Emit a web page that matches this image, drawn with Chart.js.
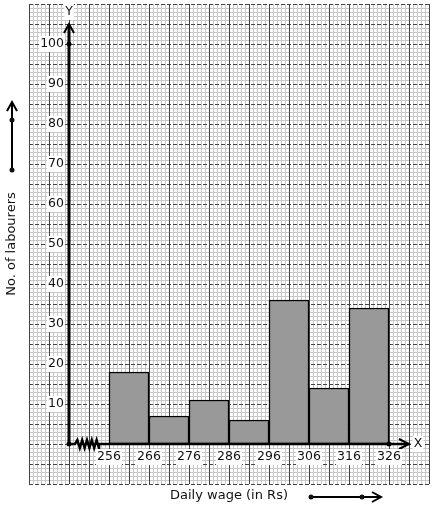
<!DOCTYPE html>
<html>
<head>
<meta charset="utf-8">
<script src="https://cdn.jsdelivr.net/npm/chart.js@4"></script>
<style>
  body { margin: 0; background: #fff; }
  #wrap { width: 434px; height: 510px; position: relative; }
</style>
</head>
<body>
<div id="wrap"><canvas id="histo"></canvas></div>
<script>
// class intervals (lower limits) and number of labourers
const wageClasses = [256, 266, 276, 286, 296, 306, 316];
const labourers = [18, 7, 11, 6, 36, 14, 34];
const xTickLabels = [256, 266, 276, 286, 296, 306, 316, 326];
const yTickLabels = [10, 20, 30, 40, 50, 60, 70, 80, 90, 100];
const classWidth = 10;

const FONT = '"DejaVu Sans", sans-serif';

// graph paper drawn from the scales
const graphPaper = {
  id: 'graphPaper',
  beforeDatasetsDraw(chart) {
    const ctx = chart.ctx, xs = chart.scales.x, ys = chart.scales.y;
    const a = chart.chartArea;
    ctx.save();
    ctx.lineWidth = 1;
    // fine lines
    ctx.strokeStyle = '#c8c8c8';
    for (let v = xs.min; v <= xs.max; v++) {
      if ((v - xs.min) % 5 === 0) continue;
      const px = Math.round(xs.getPixelForValue(v)) + 0.5;
      ctx.beginPath(); ctx.moveTo(px, a.top); ctx.lineTo(px, a.bottom); ctx.stroke();
    }
    for (let v = ys.min; v <= ys.max; v++) {
      if ((v - ys.min) % 5 === 0) continue;
      const py = Math.round(ys.getPixelForValue(v)) + 0.5;
      ctx.beginPath(); ctx.moveTo(a.left, py); ctx.lineTo(a.right, py); ctx.stroke();
    }
    // major lines
    ctx.strokeStyle = '#444';
    for (let v = xs.min; v <= xs.max; v += 5) {
      const px = Math.round(xs.getPixelForValue(v)) + 0.5;
      ctx.beginPath(); ctx.moveTo(px, a.top); ctx.lineTo(px, a.bottom); ctx.stroke();
    }
    ctx.setLineDash([4, 2]);
    for (let v = ys.min; v <= ys.max; v += 5) {
      const py = Math.round(ys.getPixelForValue(v)) + 0.5;
      ctx.beginPath(); ctx.moveTo(a.left, py); ctx.lineTo(a.right, py); ctx.stroke();
    }
    ctx.restore();
  }
};

function labelBox(ctx, text, x, y, align) {
  const w = ctx.measureText(text).width;
  let left = align === 'right' ? x - w : align === 'center' ? x - w / 2 : x;
  ctx.fillStyle = '#fff';
  ctx.fillRect(left - 1, y - 8, w + 2, 16);
  ctx.fillStyle = '#111';
  ctx.textAlign = align;
  ctx.textBaseline = 'middle';
  ctx.fillText(text, x, y);
}

function dot(ctx, x, y) {
  ctx.beginPath(); ctx.arc(x, y, 2.5, 0, Math.PI * 2); ctx.fill();
}

// axes, arrows, kink and labels
const axesDeco = {
  id: 'axesDeco',
  afterDatasetsDraw(chart) {
    const ctx = chart.ctx, xs = chart.scales.x, ys = chart.scales.y;
    const ox = xs.getPixelForValue(246), oy = ys.getPixelForValue(0);
    ctx.save();
    ctx.strokeStyle = '#000';
    ctx.fillStyle = '#000';
    // y axis
    const yTop = ys.getPixelForValue(105);
    ctx.lineWidth = 3;
    ctx.beginPath(); ctx.moveTo(ox, oy); ctx.lineTo(ox, yTop); ctx.stroke();
    ctx.lineWidth = 2;
    ctx.beginPath(); ctx.moveTo(ox - 5, yTop + 9); ctx.lineTo(ox, yTop); ctx.lineTo(ox + 5, yTop + 9); ctx.stroke();
    // x axis with kink
    const k1 = xs.getPixelForValue(247.5), k2 = xs.getPixelForValue(253.5);
    const xEnd = xs.getPixelForValue(331);
    ctx.lineWidth = 2.5;
    ctx.beginPath(); ctx.moveTo(ox, oy); ctx.lineTo(k1, oy);
    const teeth = 5, tw = (k2 - k1) / teeth;
    for (let i = 0; i < teeth; i++) {
      ctx.lineTo(k1 + tw * (i + 0.5), oy - 4);
      ctx.lineTo(k1 + tw * (i + 1), oy + 4);
    }
    ctx.lineTo(k2, oy); ctx.lineTo(xEnd, oy); ctx.stroke();
    ctx.lineWidth = 2;
    ctx.beginPath(); ctx.moveTo(xEnd - 10, oy - 5); ctx.lineTo(xEnd, oy); ctx.lineTo(xEnd - 10, oy + 5); ctx.stroke();
    dot(ctx, ox, oy);
    dot(ctx, ox, ys.getPixelForValue(100));
    dot(ctx, xs.getPixelForValue(326), oy);

    ctx.font = '12.5px ' + FONT;
    yTickLabels.forEach(v => labelBox(ctx, String(v), ox - 5, ys.getPixelForValue(v), 'right'));
    xTickLabels.forEach(v => labelBox(ctx, String(v), xs.getPixelForValue(v), oy + 13, 'center'));
    labelBox(ctx, 'Y', ox, ys.getPixelForValue(108), 'center');
    labelBox(ctx, 'X', xEnd + 9, oy, 'center');

    // axis titles
    ctx.font = '13px ' + FONT;
    ctx.fillStyle = '#111';
    ctx.textAlign = 'center';
    ctx.textBaseline = 'middle';
    ctx.fillText('Daily wage (in Rs)', 229, 496);
    ctx.save();
    ctx.translate(12, 244);
    ctx.rotate(-Math.PI / 2);
    ctx.fillText('No. of labourers', 0, 0);
    ctx.restore();

    // scale-direction arrows
    ctx.lineWidth = 2;
    ctx.beginPath(); ctx.moveTo(12, 170); ctx.lineTo(12, 102); ctx.stroke();
    ctx.beginPath(); ctx.moveTo(7, 111); ctx.lineTo(12, 102); ctx.lineTo(17, 111); ctx.stroke();
    dot(ctx, 12, 120); dot(ctx, 12, 170);
    ctx.beginPath(); ctx.moveTo(311, 497); ctx.lineTo(381, 497); ctx.stroke();
    ctx.beginPath(); ctx.moveTo(372, 492); ctx.lineTo(381, 497); ctx.lineTo(372, 502); ctx.stroke();
    dot(ctx, 311, 497); dot(ctx, 362, 497);
    ctx.restore();
  }
};

new Chart(document.getElementById('histo'), {
  type: 'bar',
  data: {
    datasets: [{
      data: wageClasses.map((c, i) => ({ x: c + classWidth / 2, y: labourers[i] })),
      backgroundColor: '#999999',
      borderColor: '#000',
      borderWidth: 1.5,
      borderSkipped: false,
      barPercentage: 1,
      categoryPercentage: 1
    }]
  },
  options: {
    responsive: true,
    maintainAspectRatio: false,
    animation: false,
    layout: { padding: { left: 29, right: 5, top: 4, bottom: 26 } },
    plugins: { legend: { display: false }, tooltip: { enabled: false } },
    scales: {
      x: { type: 'linear', min: 236, max: 336, offset: false, display: false },
      y: { type: 'linear', min: -10, max: 110, display: false }
    }
  },
  plugins: [graphPaper, axesDeco]
});
</script>
</body>
</html>
